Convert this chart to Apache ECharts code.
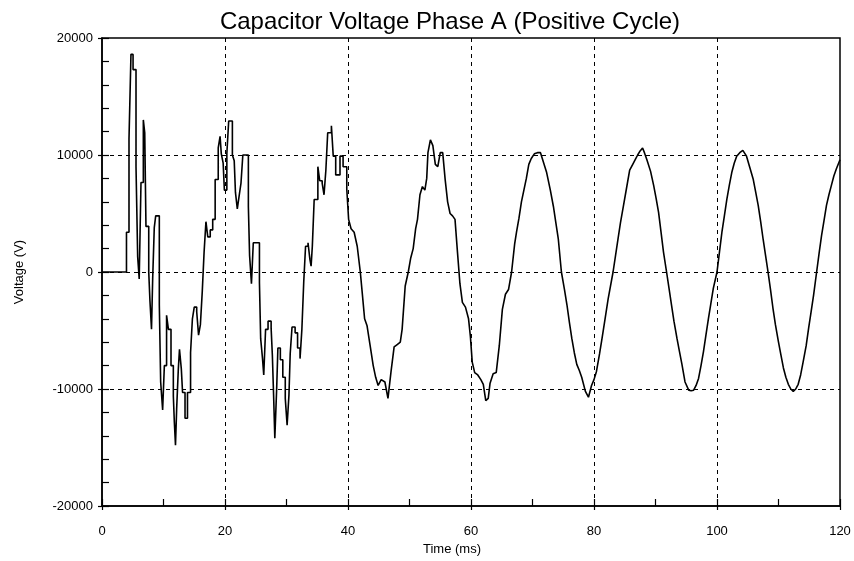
<!DOCTYPE html>
<html>
<head>
<meta charset="utf-8">
<script src="https://cdn.jsdelivr.net/npm/echarts@6/dist/echarts.min.js"></script>
<style>
  html, body { margin: 0; padding: 0; background: #fff; }
  #chart { width: 854px; height: 561px; }
</style>
</head>
<body>
<div id="chart"></div>
<script>
// Transient section: switching surge, sample-and-hold levels (ms, V)
const transientTimeMs = [
  0, 3.98, 4.39, 4.71, 5.05, 5.53, 5.8, 6.05, 6.34, 6.72, 6.95, 7.15, 7.6, 7.8, 8.05, 8.24, 8.5, 8.73,
  9.32, 9.54, 9.86, 10.14, 10.5, 10.8, 11.22, 11.6, 11.76, 11.95, 12.14, 12.41, 12.6, 12.9, 13.1, 13.5,
  13.9, 14.4, 14.7, 15.0, 15.4, 15.7, 16.0, 16.3, 16.6, 16.9, 17.2, 17.6, 18.0, 18.4, 18.9, 19.2, 19.4,
  19.7, 19.9, 20.3, 20.6, 21.2, 21.5, 21.7, 22.0, 22.3, 22.6, 22.9, 23.8, 24.0, 24.3, 24.6, 25.6, 25.8,
  26.1, 26.3, 26.6, 27.0, 27.5, 27.7, 27.9, 28.1, 28.4, 28.6, 29.0, 29.4, 29.8, 30.1, 30.4, 30.6, 30.9,
  31.4, 31.8, 32.2, 32.5, 32.8, 33.1, 33.5, 33.8, 34.0, 34.2, 34.5, 35.1, 35.4, 35.8, 36.1, 36.4, 36.7,
  37.3, 37.6, 38.0, 38.7, 39.2, 39.8
];
const transientVoltageV = [
  0, 3400, 11400, 18600, 17300, 9000, 1300, -600, 7650, 13000, 11900, 3900, 0, -2500, -4900, -600, 3800, 4800,
  -2800, -9400, -11800, -8000, -3700, -4900, -8000, -10600, -12800, -14800, -11700, -8300, -6600, -8300, -10300, -12500,
  -10300, -6900, -4000, -3000, -3400, -5400, -4500, -1700, 1700, 4300, 3000, 3600, 4500, 7900, 10600, 11600, 10100,
  9300, 7000, 10100, 12900, 10000, 9500, 6800, 5400, 6500, 7600, 10000, 5600, 1400, -1000, 2500, -900, -5700,
  -7400, -8800, -4900, -4200, -4800, -7100, -10500, -14200, -10000, -6500, -7500, -9000, -10800, -13100, -10500, -7000, -4700,
  -5200, -6500, -7400, -4900, -900, 2200, 2500, 1100, 500, 2200, 6200, 9000, 7800, 7600, 6600, 8700, 11900,
  12500, 9900, 8300, 9900, 9000, 7100
];

// Settling section: near-sinusoidal steady state (ms, V)
const settlingTimeMs = [
  39.8, 40.1, 40.5, 41.0, 41.5, 42.0, 42.3, 42.7, 43.1, 43.6, 44.1, 44.5, 44.9, 45.4, 46.0, 46.5, 47.0, 47.5,
  48.0, 48.5, 48.8, 49.3, 49.8, 50.2, 50.6, 51.0, 51.3, 51.7, 52.1, 52.5, 52.8, 53.0, 53.4, 53.8, 54.2, 54.6,
  55.0, 55.4, 55.8, 56.2, 56.6, 57.0, 57.4, 57.8, 58.2, 58.6, 59.1, 59.6, 59.9, 60.2, 60.6, 61.1, 61.6, 62.0,
  62.4, 62.8, 63.1, 63.6, 64.1, 64.6, 65.1, 65.6, 66.1, 66.6, 67.1, 67.4, 67.8, 68.2, 68.6, 69.0, 69.4, 69.8,
  70.3, 70.8, 71.3, 71.6, 72.3, 72.9, 73.4, 73.8, 74.2, 74.7, 75.2, 75.6, 76.0, 76.4, 76.8, 77.2, 77.6, 78.0,
  78.6, 79.1, 79.6, 80.0, 80.4, 80.9, 81.3, 81.8, 82.3, 83.1, 83.5, 83.9, 84.3, 84.8, 85.3, 85.8, 86.3, 86.7,
  87.1, 87.5, 87.9, 88.2, 88.6, 89.2, 89.7, 90.1, 90.5, 90.9, 91.3, 91.8, 92.2, 92.6, 93.0, 93.5, 93.9, 94.3,
  94.8, 95.4, 95.8, 96.2, 96.6, 97.0, 97.4, 97.8, 98.2, 98.6, 99.0, 99.4, 100.0, 100.4, 100.8, 101.2, 101.6, 102.0,
  102.4, 102.8, 103.2, 103.7, 104.2, 104.8, 105.3, 105.9, 106.3, 106.7, 107.1, 107.5, 107.9, 108.3, 108.7, 109.1, 109.5, 110.0,
  110.4, 110.8, 111.2, 111.6, 112.0, 112.4, 112.8, 113.2, 113.6, 114.0, 114.5, 114.9, 115.3, 115.7, 116.2, 116.6, 117.0, 117.4,
  117.8, 118.2, 118.6, 119.0, 119.4, 120.0
];
const settlingVoltageV = [
  7100, 4500, 3700, 3400, 2200, 0, -1700, -4000, -4600, -6300, -8000, -9000, -9700, -9200, -9400, -10800, -8500, -6400,
  -6200, -6000, -4900, -1200, 0, 1200, 2000, 3700, 4500, 6600, 7300, 7000, 8000, 10200, 11300, 10800, 9200, 9000,
  10200, 10200, 7900, 6000, 5000, 4800, 4500, 1700, -1000, -2600, -3000, -4000, -5500, -7700, -8600, -8800, -9200, -9600,
  -11000, -10800, -9500, -8700, -8600, -6300, -3200, -1900, -1500, 0, 2400, 3400, 4600, 6000, 7000, 8000, 9200, 9700,
  10100, 10200, 10200, 10300, 8500, 7000, 5600, 4200, 2800, 0, -1500, -2800, -4300, -5700, -6900, -7900, -8400, -9000,
  -10200, -10700, -9700, -9200, -8500, -7000, -5700, -4000, -2300, 0, 1400, 2800, 4200, 5700, 7200, 8700, 9200, 9600,
  10000, 10350, 10600, 10200, 9600, 8600, 7400, 6300, 5100, 3400, 1700, 0, -1400, -2800, -4200, -5700, -6800, -7900,
  -9400, -10100, -10150, -10100, -9700, -9100, -8000, -6800, -5400, -4000, -2700, -1400, 0, 1700, 3400, 4800, 6200, 7400,
  8500, 9300, 9900, 10200, 10400, 9900, 9000, 7900, 6800, 5700, 4300, 2800, 1400, 0, -1500, -3100, -4500, -6000,
  -7100, -8200, -9000, -9600, -10000, -10200, -10000, -9600, -8800, -7700, -6300, -4800, -3400, -2000, 0, 1600, 3100, 4400,
  5700, 6600, 7400, 8200, 8800, 9600
];

// Axis ranges and tick spacing
const timeRange = [0, 120];
const timeTickStep = 20;
const voltageRange = [-20000, 20000];
const voltageTickStep = 10000;

const FONT = 'Liberation Sans, Arial, sans-serif';
const plainNumber = v => String(v);

const transientPoints = transientTimeMs.map((t, i) => [t, transientVoltageV[i]]);
const settlingPoints = settlingTimeMs.map((t, i) => [t, settlingVoltageV[i]]);

const chart = echarts.init(document.getElementById('chart'), null, { renderer: 'canvas' });

const baseX = { type: 'value', min: timeRange[0], max: timeRange[1], interval: timeTickStep };
const baseY = { type: 'value', min: voltageRange[0], max: voltageRange[1], interval: voltageTickStep };
const tickLine = { color: '#000', width: 1.2 };

chart.setOption({
  backgroundColor: '#ffffff',
  animation: false,
  title: {
    text: 'Capacitor Voltage Phase A (Positive Cycle)',
    left: 445,
    top: 5,
    textAlign: 'center',
    textStyle: { fontFamily: FONT, fontSize: 24, fontWeight: 'normal', color: '#000' }
  },
  grid: {
    left: 102, right: 14, top: 38, bottom: 52,
    show: true, borderColor: '#000', borderWidth: 1.5, backgroundColor: 'transparent'
  },
  xAxis: [
    Object.assign({}, baseX, {
      position: 'bottom',
      name: 'Time (ms)',
      nameLocation: 'middle',
      nameGap: 37,
      nameTextStyle: { fontFamily: FONT, fontSize: 13, color: '#000', padding: [0, 38, 0, 0] },
      axisLine: { show: true, onZero: false, lineStyle: { color: '#000', width: 1.5 } },
      axisTick: { show: true, inside: true, length: 7, lineStyle: tickLine },
      minorTick: { show: true, splitNumber: 2, length: 7, lineStyle: tickLine },
      axisLabel: { fontFamily: FONT, fontSize: 13, color: '#000', margin: 19, formatter: plainNumber },
      splitLine: {
        show: true, showMinLine: false, showMaxLine: false,
        lineStyle: { color: '#000', width: 1, type: [4, 4] }
      }
    }),
    Object.assign({}, baseX, {
      position: 'bottom',
      axisLine: { show: false, onZero: false },
      axisTick: { show: true, inside: false, length: 4, lineStyle: tickLine },
      axisLabel: { show: false },
      splitLine: { show: false }
    })
  ],
  yAxis: [
    Object.assign({}, baseY, {
      position: 'left',
      name: 'Voltage (V)',
      nameLocation: 'middle',
      nameGap: 76,
      nameTextStyle: { fontFamily: FONT, fontSize: 13, color: '#000' },
      axisLine: { show: true, onZero: false, lineStyle: { color: '#000', width: 1.5 } },
      axisTick: { show: true, inside: true, length: 7, lineStyle: tickLine },
      minorTick: { show: true, splitNumber: 5, length: 7, lineStyle: tickLine },
      axisLabel: { fontFamily: FONT, fontSize: 13, color: '#000', margin: 9, formatter: plainNumber },
      splitLine: {
        show: true, showMinLine: false, showMaxLine: false,
        lineStyle: { color: '#000', width: 1, type: [4, 4] }
      }
    }),
    Object.assign({}, baseY, {
      position: 'left',
      axisLine: { show: false, onZero: false },
      axisTick: { show: true, inside: false, length: 4, lineStyle: tickLine },
      axisLabel: { show: false },
      splitLine: { show: false }
    })
  ],
  series: [
    {
      name: 'transient',
      type: 'line',
      data: transientPoints,
      step: 'end',
      showSymbol: false,
      lineStyle: { color: '#000', width: 1.6 },
      z: 5
    },
    {
      name: 'settling',
      type: 'line',
      data: settlingPoints,
      showSymbol: false,
      lineStyle: { color: '#000', width: 1.6 },
      z: 5
    }
  ]
});
</script>
</body>
</html>
